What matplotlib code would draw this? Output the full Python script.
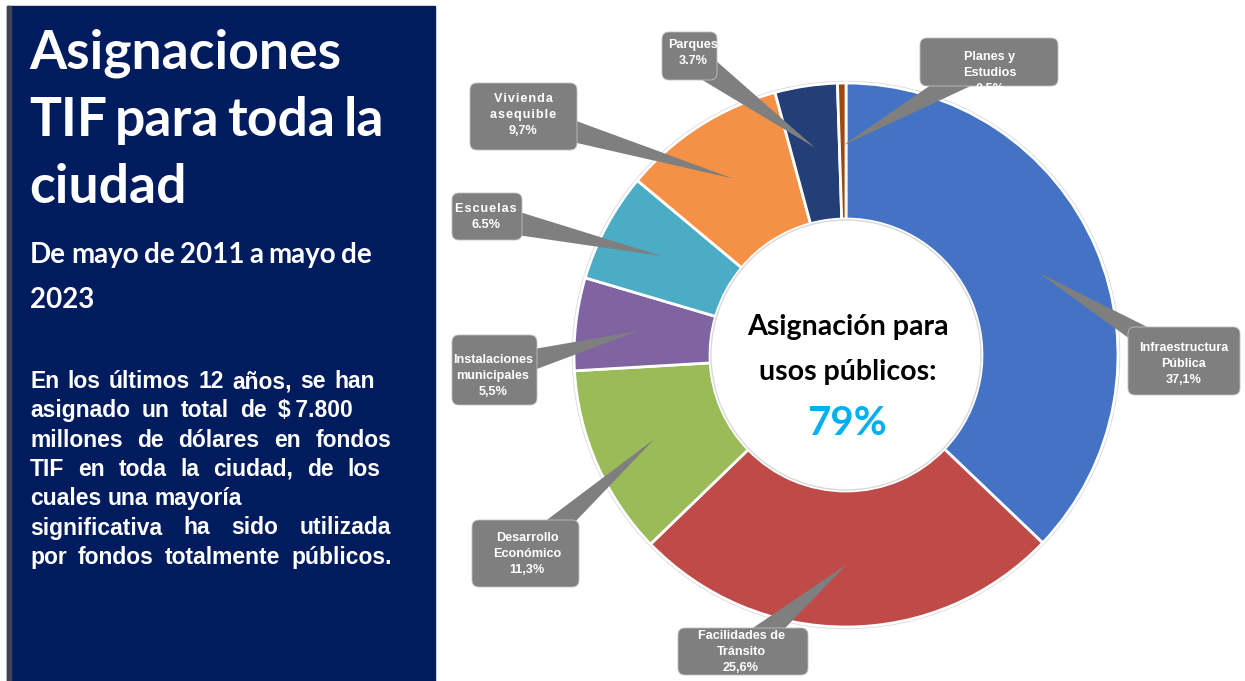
import matplotlib
matplotlib.use("Agg")
import matplotlib.pyplot as plt
from matplotlib.patches import FancyBboxPatch, Polygon, Rectangle
import numpy as np

# slice data, clockwise from the top
categories = ["Infraestructura\nPública", "Facilidades de\nTránsito", "Desarrollo\nEconómico",
              "Instalaciones\nmunicipales", "Escuelas", "Vivienda\nasequible", "Parques", "Planes y\nEstudios"]
shares = [37.1, 25.6, 11.3, 5.5, 6.5, 9.7, 3.7, 0.5]
share_labels = ["37,1%", "25,6%", "11,3%", "5,5%", "6.5%", "9,7%", "3.7%", "0.5%"]
colors = ["#4472C4", "#BE4B48", "#9BBB59", "#8064A2", "#4BACC6", "#F59146", "#243F78", "#9E480E"]

title_lines = ["Asignaciones", "TIF para toda la", "ciudad"]
subtitle = ["De mayo de 2011 a mayo de", "2023"]
body_lines = ["En los últimos 12 años, se han",
              "asignado un total de $\u20097.800",
              "millones de dólares en fondos",
              "TIF en toda la ciudad, de los",
              "cuales una mayoría",
              "significativa ha sido utilizada",
              "por fondos totalmente públicos."]
center_lines = ["Asignación para", "usos públicos:"]
public_share = "79%"

W, H = 1245, 681
fig = plt.figure(figsize=(W / 100, H / 100), dpi=100)
ax = fig.add_axes([0, 0, 1, 1])
ax.set_xlim(0, W)
ax.set_ylim(H, 0)
ax.axis("off")
renderer = fig.canvas.get_renderer()


def draw_line(text, x0, y, x1, **kw):
    # word by word, spread so the line ends at x1 (or natural spacing)
    words = text.split(" ")
    p2 = ax.text(0, 0, "a a", **kw)
    p1 = ax.text(0, 0, "a", **kw)
    space = p2.get_window_extent(renderer).width - 2 * p1.get_window_extent(renderer).width
    p2.remove()
    p1.remove()
    txts = [ax.text(0, y, w, va="baseline", ha="left", **kw) for w in words]
    widths = [t.get_window_extent(renderer).width for t in txts]
    gap = space
    if x1 is not None and len(words) > 1:
        gap = max(0.6 * space, (x1 - x0 - sum(widths)) / (len(words) - 1))
    x = x0
    for t, w in zip(txts, widths):
        t.set_x(x)
        x += w + gap


# left panel
ax.add_patch(Rectangle((7, 6), 428, H - 6, color="#011C5E", zorder=1))
ax.add_patch(Rectangle((7, 6), 4, H - 6, color="#3D4350", zorder=2))

title_kw = dict(color="white", fontsize=38.5, fontweight="bold", family="Lato", zorder=3)
for line, yb, x1 in zip(title_lines, [68, 136, 203], [None, 368, None]):
    draw_line(line, 29, yb, x1, **title_kw)
sub_kw = dict(color="white", fontsize=20, fontweight="bold", family="Lato", zorder=3)
draw_line(subtitle[0], 30, 263, 372, **sub_kw)
draw_line(subtitle[1], 30, 308, None, **sub_kw)

right_edges = [375, 353, 391, 380, None, 391, 392]
body_kw = dict(color="white", fontsize=16.5, fontweight="bold",
               family=["Liberation Sans", "DejaVu Sans"], zorder=3)
for i, (line, x1) in enumerate(zip(body_lines, right_edges)):
    draw_line(line, 30, 388 + i * 29.3, x1, **body_kw)

# donut
cx, cy, R = 846, 355, 272
wedges, _ = ax.pie(shares, colors=colors, startangle=-90, counterclock=True, center=(cx, cy),
                   radius=R, frame=True,
                   wedgeprops=dict(width=R * 0.5, edgecolor="white", linewidth=2), normalize=True)
ax.set_xlim(0, W)
ax.set_ylim(H, 0)
ax.axis("off")
ax.add_patch(plt.Circle((cx, cy), R + 1.5, fill=False, ec="#D9D9D9", lw=1, zorder=0.5))
ax.add_patch(plt.Circle((cx, cy), R * 0.5 - 1, fill=False, ec="#D9D9D9", lw=1, zorder=3))

for line, yb in zip(center_lines, [335, 380]):
    ax.text(cx + 2, yb, line, color="black", fontsize=20.5, fontweight="bold", family="Lato",
            ha="center", va="baseline", zorder=4)
ax.text(cx + 1, 435, public_share, color="#00B0F0", fontsize=29, fontweight="bold", family="Lato",
        ha="center", va="baseline", zorder=4)

# callout boxes (x0, y0, x1, y1) and text centre
boxes = [(1128, 327, 1240, 395, 1184, 364),
         (678, 628, 808, 675, 741, 652),
         (472, 520, 579, 587, 527, 554),
         (452, 335, 537, 405, 493, 376),
         (452, 193, 522, 240, 486, 217),
         (470, 83, 577, 150, 523, 115),
         (662, 32, 717, 80, 693, 53),
         (920, 38, 1058, 86, 990, 73)]

gray = "#7F7F7F"
for wdg, cat, lab, (x0, y0, x1, y1, tx, ty) in zip(wedges, categories, share_labels, boxes):
    mid = np.deg2rad((wdg.theta1 + wdg.theta2) / 2)
    tip = (cx + 0.77 * R * np.cos(mid), cy + 0.77 * R * np.sin(mid))
    bx, by = (x0 + x1) / 2, (y0 + y1) / 2
    d = np.array([tip[0] - bx, tip[1] - by])
    n = np.array([-d[1], d[0]]) / np.linalg.norm(d) * 14
    ax.add_patch(Polygon([(bx + n[0], by + n[1]), (bx - n[0], by - n[1]), tip],
                         closed=True, color=gray, lw=0, zorder=5))
    ax.add_patch(FancyBboxPatch((x0, y0), x1 - x0, y1 - y0,
                                boxstyle="round,pad=0,rounding_size=7",
                                fc=gray, ec="#BFBFBF", lw=0.6, zorder=6))
    label = cat
    if cat in ("Vivienda\nasequible", "Escuelas"):
        label = "\n".join("\u200a".join(part) for part in cat.split("\n"))
    ax.text(tx, ty, label + "\n" + lab, color="white", fontsize=9.1, fontweight="bold",
            family=["Liberation Sans", "DejaVu Sans"], ha="center", va="center",
            linespacing=1.45, zorder=7)

fig.savefig("out.png", dpi=100, facecolor="white")
